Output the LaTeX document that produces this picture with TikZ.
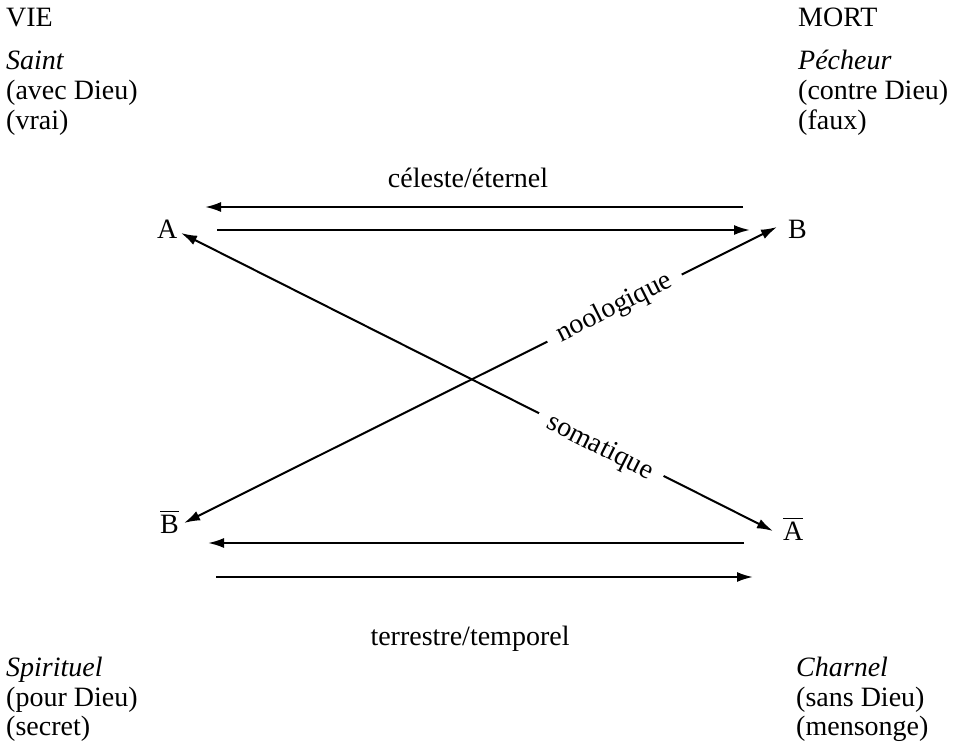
\documentclass[tikz,border=0pt]{standalone}
\usepackage{fontspec}
\setmainfont{Liberation Serif}
\usetikzlibrary{arrows.meta}
\begin{document}
\begin{tikzpicture}[x=1pt,y=-1pt,
  font=\fontsize{28}{30}\selectfont,
  lbl/.style={anchor=base west, inner sep=0pt},
  ctr/.style={anchor=base, inner sep=0pt},
  arr/.style={line width=2pt, -{Latex[length=16pt,width=10pt]}},
  darr/.style={line width=2pt, {Latex[length=16pt,width=10pt]}-{Latex[length=16pt,width=10pt]}},
  onl/.style={sloped, fill=white, inner xsep=12pt, inner ysep=2pt}]
\useasboundingbox (0,0) rectangle (961,746);
% corner texts
\node[lbl] (vie) at (6,27) {VIE};
\node[lbl] (saint) at (6,70) {\itshape Saint};
\node[lbl] (avec) at (6,100) {(avec Dieu)};
\node[lbl] (vrai) at (6,130) {(vrai)};
\node[lbl] (mort) at (798,27) {MORT};
\node[lbl] (pech) at (798,70) {\itshape Pécheur};
\node[lbl] (contre) at (798,100) {(contre Dieu)};
\node[lbl] (faux) at (798,130) {(faux)};
\node[lbl] (spir) at (6,676) {\itshape Spirituel};
\node[lbl] (pour) at (6,706) {(pour Dieu)};
\node[lbl] (secret) at (6,735) {(secret)};
\node[lbl] (charn) at (796,676) {\itshape Charnel};
\node[lbl] (sans) at (796,706) {(sans Dieu)};
\node[lbl] (mens) at (796,735) {(mensonge)};
% axis labels
\node[ctr] (cel) at (468,188) {céleste/éternel};
\node[ctr] (ter) at (470,645) {terrestre/temporel};
% poles
\node[lbl] (A) at (157,238) {A};
\node[lbl] (B) at (788,238) {B};
\node[lbl] (Bb) at (160,533) {$\overline{\mbox{\rule{0pt}{20pt}B}}$};
\node[lbl] (Ab) at (783,540) {$\overline{\mbox{\rule{0pt}{20pt}A}}$};
% arrow ends
\coordinate (t1s) at (743,207); \coordinate (t1e) at (205,207);
\coordinate (t2s) at (217,230); \coordinate (t2e) at (750,230);
\coordinate (b1s) at (744,543); \coordinate (b1e) at (208,543);
\coordinate (b2s) at (216,577); \coordinate (b2e) at (753,577);
\coordinate (dA) at (181,233); \coordinate (dAb) at (773,531);
\coordinate (dBb) at (184,523); \coordinate (dB) at (777,227);
% connectors
\draw[arr] (t1s) -- (t1e);
\draw[arr] (t2s) -- (t2e);
\draw[arr] (b1s) -- (b1e);
\draw[arr] (b2s) -- (b2e);
\draw[darr] (dA) -- node[onl, pos=0.71, yshift=-4pt] (soma) {somatique} (dAb);
\draw[darr] (dBb) -- node[onl, pos=0.726] (noo) {noologique} (dB);
\end{tikzpicture}
\end{document}
